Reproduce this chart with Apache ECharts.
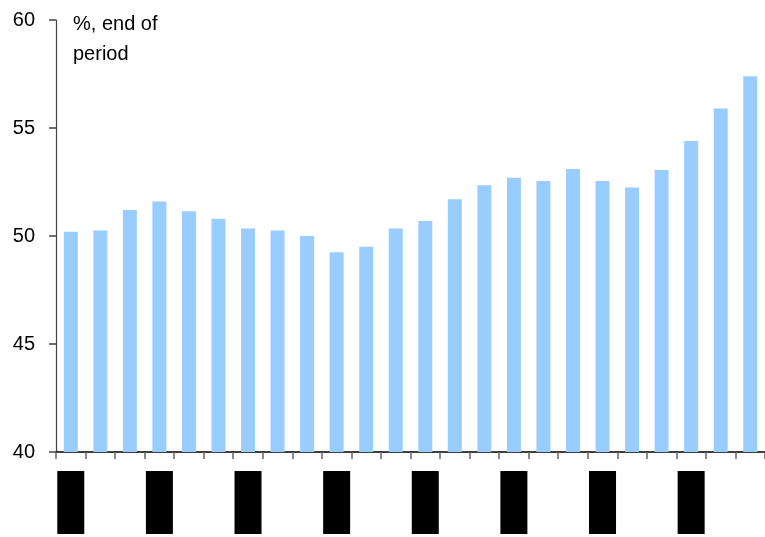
<!DOCTYPE html>
<html>
<head>
<meta charset="utf-8">
<script src="https://cdn.jsdelivr.net/npm/echarts@6/dist/echarts.min.js"></script>
<style>
  html, body { margin: 0; padding: 0; background: #fff; }
  #chart { width: 765px; height: 537px; }
</style>
</head>
<body>
<div id="chart"></div>
<script>
// Period labels (monthly, end of period)
const categories = [
  'Jan-12', 'Feb-12', 'Mar-12', 'Apr-12', 'May-12', 'Jun-12',
  'Jul-12', 'Aug-12', 'Sep-12', 'Oct-12', 'Nov-12', 'Dec-12',
  'Jan-13', 'Feb-13', 'Mar-13', 'Apr-13', 'May-13', 'Jun-13',
  'Jul-13', 'Aug-13', 'Sep-13', 'Oct-13', 'Nov-13', 'Dec-13'
];

// Share, % at end of period
const shareValues = [
  50.2, 50.25, 51.2, 51.6, 51.15, 50.8,
  50.35, 50.25, 50.0, 49.25, 49.5, 50.35,
  50.7, 51.7, 52.35, 52.7, 52.55, 53.1,
  52.55, 52.25, 53.05, 54.4, 55.9, 57.4
];

const unitNote = '%, end of\nperiod';

const font = '"Liberation Sans", Arial, sans-serif';
const chart = echarts.init(document.getElementById('chart'), null, { renderer: 'canvas' });

chart.setOption({
  animation: false,
  backgroundColor: '#ffffff',
  grid: { left: 56, right: -10, top: 20, bottom: 84, containLabel: false },
  graphic: [{
    type: 'text',
    left: 73,
    top: 9,
    style: {
      text: unitNote,
      font: '20px ' + font,
      fill: '#000',
      lineHeight: 30
    }
  }],
  xAxis: {
    type: 'category',
    data: categories,
    boundaryGap: true,
    axisLine: { show: true, lineStyle: { color: '#000', width: 1.5 } },
    axisTick: { show: true, interval: 0, length: 7, lineStyle: { color: '#666', width: 1.5 } },
    axisLabel: {
      interval: 2,
      rotate: 90,
      margin: 19,
      color: '#000',
      backgroundColor: '#000',
      fontFamily: font,
      fontSize: 18,
      lineHeight: 19,
      width: 55,
      padding: [4, 4, 4, 4]
    },
    splitLine: { show: false }
  },
  yAxis: {
    type: 'value',
    min: 40,
    max: 60,
    interval: 5,
    axisLine: { show: true, lineStyle: { color: '#444', width: 1.2 } },
    axisTick: { show: true, length: 7, lineStyle: { color: '#444', width: 1.5 } },
    axisLabel: { color: '#000', fontFamily: font, fontSize: 20, margin: 21 },
    splitLine: { show: false }
  },
  series: [{
    type: 'bar',
    data: shareValues,
    barWidth: 14,
    itemStyle: { color: '#99CCFF' }
  }]
});
</script>
</body>
</html>
